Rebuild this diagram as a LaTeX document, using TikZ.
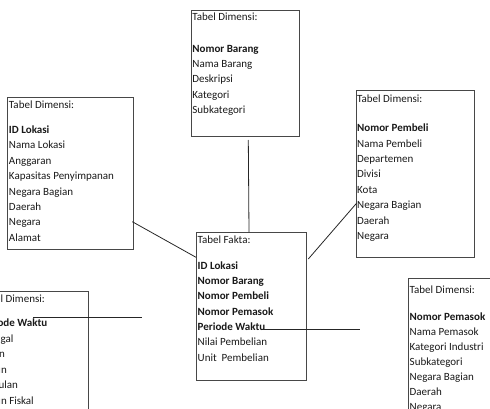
\documentclass[tikz,border=0pt]{standalone}
\usepackage{fontspec}
\setmainfont{Carlito}
\newcommand\tline[1]{\hbox{#1}}
\newcommand\tblock[2]{\vtop{\baselineskip=15.3pt\lineskiplimit=-20pt\lineskip=0pt #1\vskip #2 }}
\begin{document}
\begin{tikzpicture}[x=1pt,y=-1pt,
  tbox/.style={draw=black!72,line width=0.9pt,inner sep=0pt,anchor=north west},
  txt/.style={anchor=base west,inner sep=0pt,font=\fontsize{11}{15.3}\selectfont,text=black!90},
  conn/.style={draw=black!85,line width=0.8pt}]
\useasboundingbox (0,0) rectangle (490,409);
\clip (0,0) rectangle (490,409);
% boxes
\node[tbox,minimum width=108.3pt,minimum height=126pt] (top) at (190.7,10) {};
\node[tbox,minimum width=125.2pt,minimum height=152pt] (left) at (7.3,97.3) {};
\node[tbox,minimum width=118.8pt,minimum height=166.7pt] (right) at (355.5,90) {};
\node[tbox,minimum width=110pt,minimum height=147.7pt] (fact) at (196,232.3) {};
\node[tbox,minimum width=112.5pt,minimum height=150pt] (bl) at (-25,290.7) {};
\node[tbox,minimum width=100pt,minimum height=150pt] (br) at (408,277.5) {};
% texts
\node[txt] (toptxt) at (192.2,20.4) {\vtop{\baselineskip=15.1pt\lineskiplimit=-20pt
  \hbox{Tabel Dimensi:}\vskip 17.3pt
  \hbox{\textbf{Nomor Barang}}\hbox{Nama Barang}\hbox{Deskripsi}\hbox{Kategori}\hbox{Subkategori}}};
\node[txt] (lefttxt) at (8.8,108.5) {\vtop{\baselineskip=15.4pt\lineskiplimit=-20pt
  \hbox{Tabel Dimensi:}\vskip 9.6pt
  \hbox{\textbf{ID Lokasi}}\hbox{Nama Lokasi}\hbox{Anggaran}\hbox{Kapasitas Penyimpanan}\hbox{Negara Bagian}\hbox{Daerah}\hbox{Negara}\hbox{Alamat}}};
\node[txt] (righttxt) at (357,102.5) {\vtop{\baselineskip=15.4pt\lineskiplimit=-20pt
  \hbox{Tabel Dimensi:}\vskip 13.9pt
  \hbox{\textbf{Nomor Pembeli}}\hbox{Nama Pembeli}\hbox{Departemen}\hbox{Divisi}\hbox{Kota}\hbox{Negara Bagian}\hbox{Daerah}\hbox{Negara}}};
\node[txt] (facttxt) at (197.5,243.5) {\vtop{\baselineskip=15.3pt\lineskiplimit=-20pt
  \hbox{Tabel Fakta:}\vskip 10.4pt
  \hbox{\textbf{ID Lokasi}}\hbox{\textbf{Nomor Barang}}\hbox{\textbf{Nomor Pembeli}}\hbox{\textbf{Nomor Pemasok}}\hbox{\textbf{Periode Waktu}}\hbox{Nilai Pembelian}\hbox{Unit\ \ Pembelian}}};
\node[txt] (bltxt) at (-20.5,302.5) {\vtop{\baselineskip=15.5pt\lineskiplimit=-20pt
  \hbox{Tabel Dimensi:}\vskip 8.8pt
  \hbox{\textbf{Periode Waktu}}\hbox{Tanggal}\hbox{Bulan}\hbox{Tahun}\hbox{Triwulan}\hbox{Tahun Fiskal}}};
\node[txt] (brtxt) at (409.5,293.5) {\vtop{\baselineskip=15.1pt\lineskiplimit=-20pt
  \hbox{Tabel Dimensi:}\vskip 11.6pt
  \hbox{\textbf{Nomor Pemasok}}\hbox{Nama Pemasok}\hbox{Kategori Industri}\hbox{Subkategori}\hbox{Negara Bagian}\hbox{Daerah}\hbox{Negara}}};
% connector end points
\coordinate (c1a) at (248.3,140);
\coordinate (c1b) at (249,232.3);
\coordinate (c2a) at (132.3,221.7);
\coordinate (c2b) at (196,257.3);
\coordinate (c3a) at (308.3,259);
\coordinate (c3b) at (356.5,203.3);
\coordinate (c4a) at (262,329);
\coordinate (c4b) at (360,329);
\coordinate (c5a) at (33.3,317.3);
\coordinate (c5b) at (141.7,317.3);
\draw[conn] (c1a) -- (c1b);
\draw[conn] (c2a) -- (c2b);
\draw[conn] (c3a) -- (c3b);
\draw[conn] (c4a) -- (c4b);
\draw[conn] (c5a) -- (c5b);
\end{tikzpicture}
\end{document}
